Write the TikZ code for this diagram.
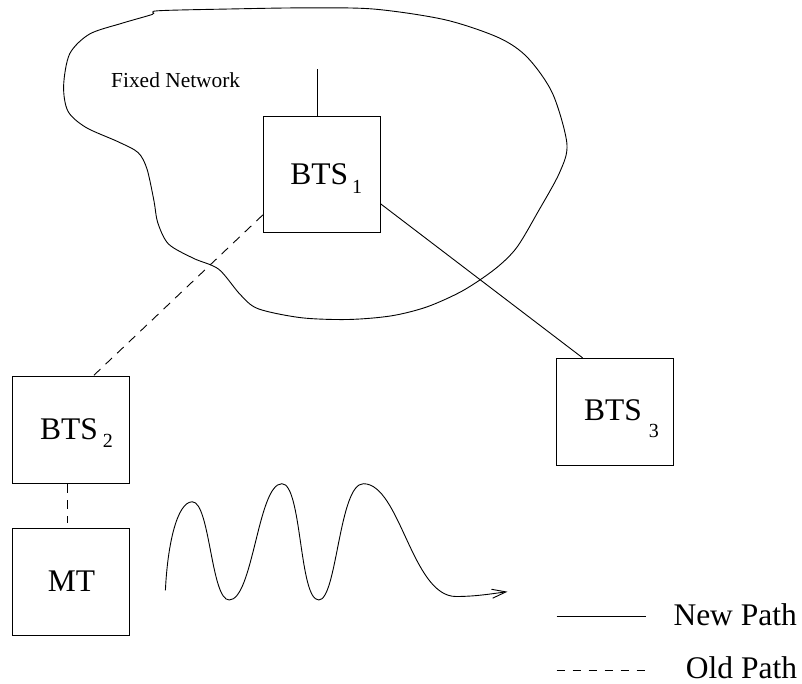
\documentclass[tikz,border=0pt]{standalone}
\usepackage{fontspec}
\setmainfont{Liberation Serif}
\usetikzlibrary{arrows.meta}
\newcommand\subsz{\fontsize{20}{20}\selectfont}
\begin{document}
\begin{tikzpicture}[x=1pt,y=-1pt,
  box/.style={draw, line width=1pt, inner sep=0pt, minimum width=117pt, text depth=0pt, font=\fontsize{31.5}{34}\selectfont},
  solidpath/.style={line width=0.9pt},
  oldpath/.style={line width=0.9pt, dash pattern=on 9pt off 7pt},
  legtext/.style={anchor=base west, inner sep=0pt, font=\fontsize{31.5}{34}\selectfont}]
\useasboundingbox (0,0) rectangle (802,684);

% cloud
\draw[line width=0.9pt] plot[smooth cycle, tension=0.5] coordinates {
 (157.7,10.8) (229.5,9) (301.3,7.9) (373,9) (444.8,19.7) (498.7,37.7) (527.4,57.4)
 (552.5,93.3) (566.9,143.6) (559.7,172.3) (538,211.8) (516.6,247.7) (495,269)
 (462.8,290.7) (426.9,306.9) (391,315.9) (348,319.5) (301,317.7) (258,308.7)
 (240,294.3) (218.7,269.2) (193.6,258.4) (168.5,244) (157.7,222.5) (154,201)
 (146.9,168.7) (138,152.5) (118.2,141.8) (85.9,127.4) (68,111.3) (63.6,86.1)
 (69.7,53.8) (89.5,34.1) (121.8,23.3) (152.3,14.4)};
\node[anchor=base west, inner sep=0pt, font=\fontsize{21.4}{24}\selectfont] (fixed) at (111,87.9) {Fixed Network};

% boxes
\node[box, minimum height=115.5pt, text height=20.8pt] (bts1) at (321.9,174.5)
  {\hspace{8.7pt}BTS\hspace{4pt}\raisebox{-9pt}{\subsz 1}};
\node[box, minimum height=107.7pt, text height=18.2pt] (bts2) at (71.4,429.9)
  {\hspace{10.3pt}BTS\hspace{5pt}\raisebox{-8.4pt}{\subsz 2}};
\node[box, minimum height=106.7pt, text height=18pt] (bts3) at (615,411.7)
  {\hspace{13.1pt}BTS\hspace{7pt}\raisebox{-16.6pt}{\subsz 3}};
\node[box, minimum height=107.3pt, text height=17.4pt] (mt) at (71.4,582.3)
  {MT\hspace{16.35pt}};

% connectors
\coordinate (up) at (317.4,69.3);
\draw[solidpath] ([xshift=-4.5pt]bts1.north) -- (up);
\draw[oldpath] ([yshift=17.9pt]bts1.south west) -- ([xshift=81.2pt]bts2.north west);
\draw[solidpath] ([yshift=28.7pt]bts1.south east) -- ([xshift=26.6pt]bts3.north west);
\draw[oldpath] ([xshift=-4.3pt]bts2.south) -- ([xshift=-4.3pt,yshift=4.7pt]mt.north);

% wave
\coordinate (w0) at (165.4,590.4);
\coordinate (w1) at (192.3,501.8);
\coordinate (w2) at (229.2,600);
\coordinate (w3) at (281.9,483.7);
\coordinate (w4) at (318.8,600);
\coordinate (w5) at (363.4,483.7);
\coordinate (w6) at (456,596.5);
\coordinate (w7) at (507.4,591.7);
\draw[line width=0.9pt, -{Straight Barb[length=14pt,width=9pt]}]
 (w0) .. controls (167.5,545) and (177,501.8) .. (w1)
      .. controls (210,501.8) and (211,600) .. (w2)
      .. controls (253,600) and (258,483.7) .. (w3)
      .. controls (302,483.7) and (299,600) .. (w4)
      .. controls (337,600) and (339,483.7) .. (w5)
      .. controls (400,483.7) and (412,596.5) .. (w6)
      .. controls (475,596.5) and (490,594) .. (w7);

% legend
\coordinate (n1) at (556.7,616);
\coordinate (n2) at (646,616);
\coordinate (o1) at (556.7,670);
\coordinate (o2) at (646,670);
\draw[solidpath] (n1) -- (n2);
\draw[line width=0.9pt, dash pattern=on 8pt off 8pt] (o1) -- (o2);
\node[legtext] (newp) at (673.3,625) {New Path};
\node[legtext] (oldp) at (685.7,678.3) {Old Path};
\end{tikzpicture}
\end{document}
